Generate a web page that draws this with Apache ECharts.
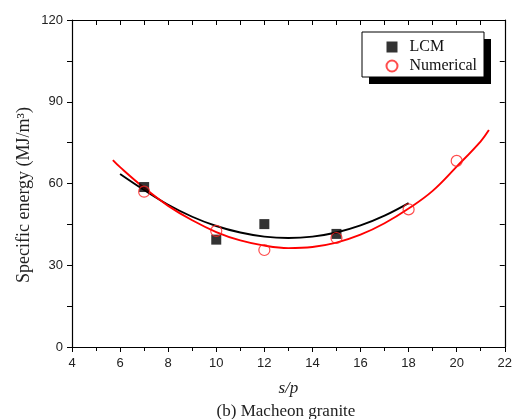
<!DOCTYPE html>
<html>
<head>
<meta charset="utf-8">
<script src="https://cdn.jsdelivr.net/npm/echarts@6/dist/echarts.min.js"></script>
<style>html,body{margin:0;padding:0;background:#fff}#c{width:515px;height:419px}</style>
</head>
<body>
<div id="c"></div>
<script>
// Data
var lcmX = [7, 10, 12, 15];
var lcmY = [58.7, 39.4, 45.1, 41.5];
var numX = [7, 10, 12, 15, 18, 20];
var numY = [57.0, 42.6, 35.6, 40.0, 50.5, 68.3];
// Fitted curves
var lcmFitX = [6, 7, 8, 9, 10, 11, 12, 13, 14, 15, 16, 17, 18];
var lcmFitY = [63.5, 57.6, 52.2, 47.8, 44.4, 42.0, 40.5, 40.0, 40.5, 42.0, 44.6, 48.2, 52.8];
var numFitX = [5.7, 6, 7, 8, 9, 10, 11, 12, 13, 14, 15, 16, 17, 18, 19, 20, 21, 21.34];
var numFitY = [68.6, 66.0, 58.4, 51.8, 46.5, 42.2, 39.1, 37.2, 36.3, 36.7, 38.3, 41.2, 45.4, 50.8, 57.3, 66.2, 75.5, 79.6];
var xTicks = [4, 22, 2];
var yTicks = [0, 120, 30];
var yTitle = 'Specific energy (MJ/m\u00B3)';
var xTitle = 's/p';
var caption = '(b) Macheon granite';

function pairs(xs, ys) { return xs.map(function (x, i) { return [x, ys[i]]; }); }

var serif = 'Liberation Serif, Times New Roman, serif';
var chart = echarts.init(document.getElementById('c'));
var tickLabel = { color: '#222', fontFamily: 'Liberation Sans, Arial, sans-serif', fontSize: 13 };
chart.setOption({
  animation: false,
  backgroundColor: '#fff',
  grid: { left: 72, right: 9, top: 20, bottom: 72 },
  xAxis: [{
    type: 'value', min: xTicks[0], max: xTicks[1], interval: xTicks[2],
    name: xTitle, nameLocation: 'middle', nameGap: 33,
    nameTextStyle: { fontFamily: serif, fontStyle: 'italic', fontSize: 17, color: '#222' },
    axisLine: { show: true, onZero: false, lineStyle: { color: '#000', width: 1.2 } },
    axisTick: { show: true, inside: false, length: 5, lineStyle: { color: '#000' } },
    minorTick: { show: true, splitNumber: 2, length: 4, lineStyle: { color: '#000' } },
    splitLine: { show: false },
    axisLabel: Object.assign({ margin: 10 }, tickLabel)
  }, {
    type: 'value', position: 'top', min: xTicks[0], max: xTicks[1], interval: xTicks[2],
    axisLine: { show: true, onZero: false, lineStyle: { color: '#000', width: 1.2 } },
    axisTick: { show: true, inside: true, length: 5, lineStyle: { color: '#000' } },
    minorTick: { show: true, splitNumber: 2, length: 5, lineStyle: { color: '#000' } },
    splitLine: { show: false }, axisLabel: { show: false }
  }],
  yAxis: [{
    type: 'value', min: yTicks[0], max: yTicks[1], interval: yTicks[2],
    axisLine: { show: true, onZero: false, lineStyle: { color: '#000', width: 1.2 } },
    axisTick: { show: true, inside: false, length: 5, lineStyle: { color: '#000' } },
    minorTick: { show: true, splitNumber: 2, length: 5, lineStyle: { color: '#000' } },
    splitLine: { show: false },
    axisLabel: Object.assign({ margin: 9 }, tickLabel)
  }, {
    type: 'value', position: 'right', min: yTicks[0], max: yTicks[1], interval: yTicks[2],
    axisLine: { show: true, onZero: false, lineStyle: { color: '#000', width: 1.2 } },
    axisTick: { show: true, inside: true, length: 5, lineStyle: { color: '#000' } },
    minorTick: { show: true, splitNumber: 2, length: 5, lineStyle: { color: '#000' } },
    splitLine: { show: false }, axisLabel: { show: false }
  }],
  legend: {
    data: ['LCM', 'Numerical'], orient: 'vertical',
    left: 384, top: 39, padding: 0, itemGap: 3, itemWidth: 11, itemHeight: 11, z: 10,
    textStyle: { fontFamily: serif, fontSize: 16, color: '#111', padding: [0, 0, 0, 7] }
  },
  graphic: [{
    type: 'rect', z: 1, shape: { x: 369, y: 39, width: 122, height: 45 }, style: { fill: '#000' }
  }, {
    type: 'rect', z: 2, shape: { x: 362, y: 32, width: 122, height: 45 }, style: { fill: '#fff', stroke: '#000', lineWidth: 1 }
  }, {
    type: 'text', z: 2, x: 24, y: 195, rotation: Math.PI / 2,
    style: { text: yTitle, textAlign: 'center', textVerticalAlign: 'middle', fontFamily: serif, fontSize: 18, fill: '#222' }
  }, {
    type: 'text', z: 2, x: 286, y: 412,
    style: { text: caption, textAlign: 'center', textVerticalAlign: 'middle', fontFamily: serif, fontSize: 17, fill: '#222' }
  }],
  series: [{
    type: 'line', data: pairs(lcmFitX, lcmFitY), smooth: 0.4, showSymbol: false, symbol: 'none',
    lineStyle: { color: '#000', width: 1.9 }, z: 2
  }, {
    type: 'line', data: pairs(numFitX, numFitY), smooth: 0.4, showSymbol: false, symbol: 'none',
    lineStyle: { color: '#ff0000', width: 1.9 }, z: 2
  }, {
    name: 'LCM', type: 'scatter', data: pairs(lcmX, lcmY), symbol: 'rect', symbolSize: 10,
    itemStyle: { color: '#000' }, z: 3
  }, {
    name: 'Numerical', type: 'scatter', data: pairs(numX, numY), symbol: 'circle', symbolSize: 11,
    itemStyle: { color: 'none', borderColor: '#ff2020', borderWidth: 1.2 }, z: 4
  }]
});
</script>
</body>
</html>
